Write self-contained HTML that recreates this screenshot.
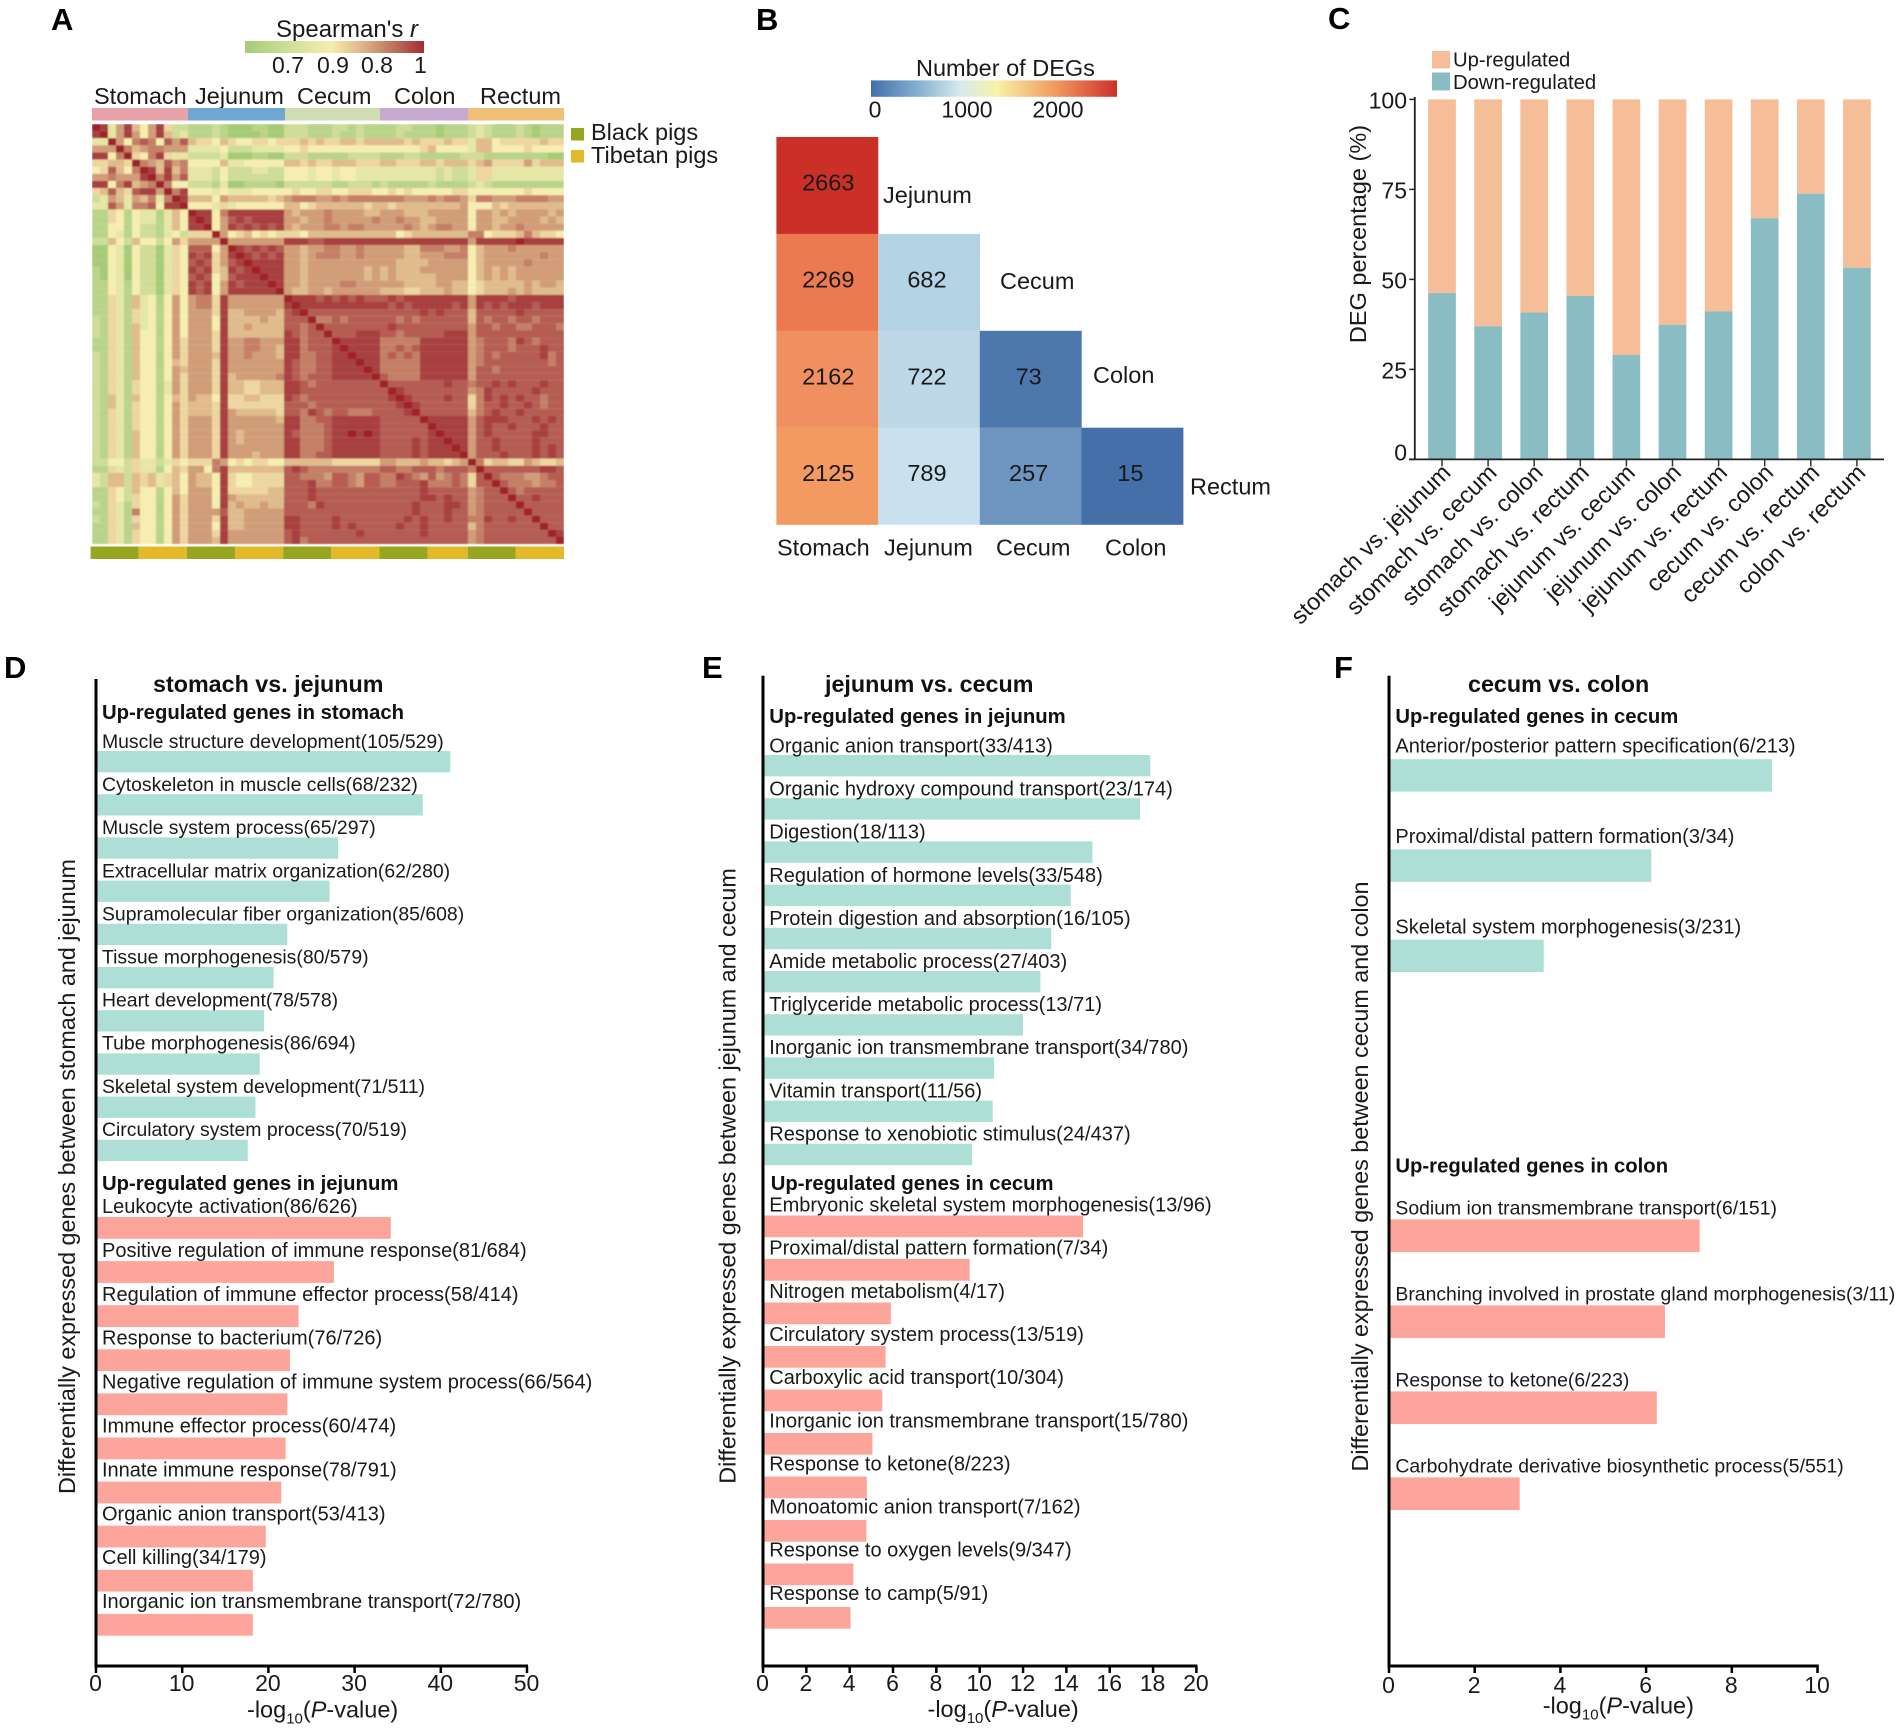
<!DOCTYPE html>
<html>
<head>
<meta charset="utf-8">
<title>DEG multi-panel figure</title>
<style>
html,body{margin:0;padding:0;background:#fff}
svg{display:block}
text{font-family:"Liberation Sans",sans-serif;fill:#1a1a1a}
.pl{font-weight:bold;font-size:31px;fill:#000}
.t23{font-size:23.5px}
.cb{font-size:23px}
.bt{font-weight:bold;font-size:23.3px;fill:#111}
.sh{font-weight:bold;font-size:20.3px;fill:#111}
</style>
</head>
<body>
<svg id="fig" xmlns="http://www.w3.org/2000/svg" width="1902" height="1731" viewBox="0 0 1902 1731">
<defs>
<linearGradient id="gradA"><stop offset="0" stop-color="#a5cb78"/><stop offset=".28" stop-color="#d6e19c"/><stop offset=".48" stop-color="#f5edb0"/><stop offset=".66" stop-color="#dcb486"/><stop offset=".85" stop-color="#bb6a5a"/><stop offset="1" stop-color="#a52c30"/></linearGradient>
<linearGradient id="gradB"><stop offset="0" stop-color="#4070ab"/><stop offset=".2" stop-color="#88b3d3"/><stop offset=".36" stop-color="#d6e9ef"/><stop offset=".51" stop-color="#f8f3a8"/><stop offset=".75" stop-color="#f09a60"/><stop offset="1" stop-color="#cc2f2a"/></linearGradient>
<filter id="soft" x="-1%" y="-1%" width="102%" height="102%"><feGaussianBlur stdDeviation="0.8"/></filter>
<clipPath id="heatClip"><rect x="92" y="124" width="472" height="420.5"/></clipPath>
</defs>
<rect width="1902" height="1731" fill="#fff"/>

<text class="pl" x="51" y="30">A</text>
<text class="pl" x="756" y="30">B</text>
<text class="pl" x="1328" y="29">C</text>
<text class="pl" x="4" y="678">D</text>
<text class="pl" x="702" y="678">E</text>
<text class="pl" x="1334" y="678">F</text>

<!-- Panel A -->
<g>
<text x="276" y="37" font-size="24">Spearman's <tspan font-style="italic">r</tspan></text>
<rect x="245" y="41" width="179" height="12" fill="url(#gradA)"/>
<text class="cb" x="272" y="73">0.7</text>
<text class="cb" x="317" y="73">0.9</text>
<text class="cb" x="361" y="73">0.8</text>
<text class="cb" x="414" y="73">1</text>
<text class="t23" x="94" y="104">Stomach</text>
<text class="t23" x="195" y="104">Jejunum</text>
<text class="t23" x="297" y="104">Cecum</text>
<text class="t23" x="394" y="104">Colon</text>
<text class="t23" x="480" y="104">Rectum</text>
<rect x="92" y="108" width="96" height="12.5" fill="#e8a2aa"/>
<rect x="188" y="108" width="97" height="12.5" fill="#6fa7d2"/>
<rect x="285" y="108" width="95" height="12.5" fill="#d0ddb2"/>
<rect x="380" y="108" width="88" height="12.5" fill="#c8a9d2"/>
<rect x="468" y="108" width="96" height="12.5" fill="#f0c078"/>
<g clip-path="url(#heatClip)"><g id="heatmap" filter="url(#soft)"></g></g>
<g id="breedBar"></g>
<rect x="571" y="128" width="13" height="12.5" fill="#96a61e"/>
<text class="t23" x="591" y="140">Black pigs</text>
<rect x="571" y="150" width="13" height="12.5" fill="#e3b92a"/>
<text class="t23" x="591" y="163">Tibetan pigs</text>
</g>

<!-- Panel B -->
<g>
<text x="916" y="76" font-size="23.5">Number of DEGs</text>
<rect x="871" y="80.4" width="246" height="16.4" fill="url(#gradB)"/>
<text class="cb" x="875" y="117.5" text-anchor="middle">0</text>
<text class="cb" x="967" y="117.5" text-anchor="middle">1000</text>
<text class="cb" x="1058" y="117.5" text-anchor="middle">2000</text>
<g id="degCells"></g>
<text class="t23" x="883" y="203">Jejunum</text>
<text class="t23" x="1000" y="289">Cecum</text>
<text class="t23" x="1093" y="383">Colon</text>
<text class="t23" x="1190" y="494.5">Rectum</text>
<text class="t23" x="777" y="555.7">Stomach</text>
<text class="t23" x="884" y="555.7">Jejunum</text>
<text class="t23" x="996" y="555.7">Cecum</text>
<text class="t23" x="1105" y="555.7">Colon</text>
</g>

<!-- Panel C -->
<g>
<rect x="1432" y="51" width="18" height="17.4" fill="#f5be98"/>
<text x="1453" y="66.3" font-size="20.3">Up-regulated</text>
<rect x="1432" y="72.5" width="18" height="17.9" fill="#8abcc4"/>
<text x="1453" y="89" font-size="20.3">Down-regulated</text>
<text transform="translate(1366,234) rotate(-90)" text-anchor="middle" font-size="23.5">DEG percentage (%)</text>
<g id="stacked"></g>
</g>

<!-- Panels D-F -->
<g id="panelD">
<text class="bt" x="153" y="692">stomach vs. jejunum</text>
<text class="sh" x="102" y="719">Up-regulated genes in stomach</text>
<text class="sh" x="102" y="1190">Up-regulated genes in jejunum</text>
<text transform="translate(75,1176.5) rotate(-90)" text-anchor="middle" font-size="23" textLength="635" lengthAdjust="spacingAndGlyphs">Differentially expressed genes between stomach and jejunum</text>
<text x="247" y="1717.6" font-size="23.5">-log<tspan font-size="15" dy="6">10</tspan><tspan dy="-6">(</tspan><tspan font-style="italic">P</tspan>-value)</text>
</g>
<g id="panelE">
<text class="bt" x="825" y="692">jejunum vs. cecum</text>
<text class="sh" x="769.3" y="723">Up-regulated genes in jejunum</text>
<text class="sh" x="770.7" y="1190">Up-regulated genes in cecum</text>
<text transform="translate(735.7,1176) rotate(-90)" text-anchor="middle" font-size="23" textLength="615.5" lengthAdjust="spacingAndGlyphs">Differentially expressed genes between jejunum and cecum</text>
<text x="927.5" y="1717" font-size="23.5">-log<tspan font-size="15" dy="6">10</tspan><tspan dy="-6">(</tspan><tspan font-style="italic">P</tspan>-value)</text>
</g>
<g id="panelF">
<text class="bt" x="1468" y="692">cecum vs. colon</text>
<text class="sh" x="1395.4" y="723">Up-regulated genes in cecum</text>
<text class="sh" x="1395.4" y="1172.7">Up-regulated genes in colon</text>
<text transform="translate(1368,1176.5) rotate(-90)" text-anchor="middle" font-size="23" textLength="590" lengthAdjust="spacingAndGlyphs">Differentially expressed genes between cecum and colon</text>
<text x="1542.7" y="1713.4" font-size="23.5">-log<tspan font-size="15" dy="6">10</tspan><tspan dy="-6">(</tspan><tspan font-style="italic">P</tspan>-value)</text>
</g>
</svg>

<script>
// ---- Panel A data: correlation level per cell (hex digit 0-b), groups = stomach, jejunum, cecum, colon, rectum
var correlationRows = [
"ba37a647a522 111210001100 222111221211 11221110111 232111210111",
"ab37a747a623 111210000100 222111211211 11211110111 232111210111",
"33b748984979 655465445545 556565566566 66656555655 366455555655",
"777b86788777 333342223333 445444444444 44444564444 366444454444",
"aa48b548a533 222230001100 222111112222 11122111112 221111111100",
"55665b876978 444463344444 665655666555 66555665666 567555575666",
"459648ba6a68 333242223322 444344344333 33333332322 355333333333",
"778777ab8a79 333242222222 444344344333 33333332322 355333333333",
"aa48a678b844 222130011110 222222112221 21111121111 232111111111",
"569659aa7b8a 444343334444 454455445554 45454444455 444444454444",
"2376376838ba 666476666656 788877878888 88877787887 588777888877",
"339738894aab 444353444444 664566666656 65666666667 444656666666",
"115414331364 baa48aaaaaaa 767778777766 77766677777 477676777767",
"115414331364 aba479a9aaaa 776778777778 77877667777 477667777676",
"114414221364 aab47a9a9a9a 767778878877 77787678877 477677877777",
"114314221342 555b74564545 554666666666 66456666666 884555686554",
"226426442475 7777b7777777 aaa99aaaaaaa aaaaaaaaaaa 7aaaaabaaaaa",
"004304220354 99947ba9a9a9 776778877877 77766888778 467778777777",
"004304220354 a9a57aba9a9a 776788877877 77766777888 467777777877",
"004304220354 9a9579abaaaa 776777777777 77666677777 467777787777",
"104304220354 a9a56a9abaaa 776777777767 67666777777 467676777777",
"104304220354 9a9469aaabaa 776777777767 67666667777 467676777777",
"114314220354 a9a47a9aaaba 776777788777 77766667766 456666676776",
"114314220354 a9a47aaaaaab 766776777777 66655666766 456667676666",
"115316341474 7885a7777777 baaa9a9a9a99 9a9aaaaaaaa 7aaaa9aaaaaa",
"115316341474 7885a7777777 abaaaaaaaaaa a9a9aaaaa9a 7a9a9aaa9aaa",
"115315341474 7775a6677776 9ab999999999 99999a9a999 699999a99999",
"215315341474 7774a6666766 999b88989999 99898999999 698998998999",
"215316341474 7774a6676666 9989b9999999 9a999999999 799899889998",
"215316441474 7775a6666666 a9899b999aaa 99899999aaa 799999999999",
"115316441475 7775a7788777 aa8999baaaaa 88888aaaaaa 789998a98999",
"115316441475 7775a7788776 aa8999abaaaa 88989aaaaaa 789998999a99",
"215316441475 7776a7787776 aa8899aabaaa 89898aaaaaa 789899999a89",
"215316441465 7775a7777777 a98899aaabaa 88888aaaaaa 789999999989",
"215316441476 7775a7777777 a98899aaaaba 88888aaaaaa 799899999999",
"215316441475 7775a6777778 a98999aaaaab 98888aaaaaa 799999999999",
"215315441375 7775a6655666 aa9899999999 b9999999a99 899a9a999a99",
"215315441375 7775a6655666 aa9999999999 9ba99999999 78a99999a999",
"216316441465 7664a5566555 a98999999999 9aba9999a99 58a9a9a99899",
"216315441475 6665a5555555 999899999999 99aba999999 5899a99a9899",
"215315441475 6665a7666665 998a98998889 999ab999999 689a99a99999",
"215315441475 7775a7777776 aa8899aaaaaa 99999baaaaa 79aaa999a9a9",
"215315441475 7775a7777777 aa8889aaaaaa 999999baaaa 79a99a999a99",
"215316441475 7775a7677777 a98889aababa 999999abaaa 79a99999aa99",
"215316441475 7775a7677777 aa8889aaaaaa 9999a9aabaa 799a9999a999",
"215316441475 7775a7777777 aa8889aaaaaa 9999a9aaaba 799a9999a9a9",
"215316441475 7775a7776777 aa8899aaaaaa 9999a9aaaab 7999a999a9a9",
"224425332354 555874545544 666666555555 77666766567 b85665576556",
"115325331465 7748a6666666 9a9888888888 99889998999 8b9999999aa9",
"326626563564 7664a5445555 998887998799 88a98797898 59b988877899",
"326626563564 7664a5445555 999a88998799 88999a88898 599b98887889",
"115426441464 7774a5555566 999a99999999 99999a99999 7899b9899999",
"115425441475 7774a7666666 999a99999999 99999aa9a99 78999b99a999",
"215315441475 7774a6766766 9998a9999999 9999a999aa9 789999b99999",
"115318441475 777796677777 999999999999 9999a999a99 7899999b9999",
"215315441475 7775a6677777 aa9999a99999 999a9a99a99 88a99a99b999",
"115316441475 7774a6677777 aa9999a9a999 99a99a99999 689999999b99",
"115315441475 7775a7777777 9a9999999a99 99999a99999 7899999999ba",
"115315441475 7776a7777777 9a8999999999 99999999999 78999999999b"
];
var correlationPalette = ["#a6cb78","#b9d489","#cfdd98","#e6e6a6","#f5eeb0","#eed6a0","#e0bc8c","#d19d78","#c47f66","#b55d52","#a83f40","#9e2327"];
var breedGroups = ["black","tibetan","black","tibetan","black","tibetan","black","tibetan","black","tibetan"];
var breedGroupSizes = [6,6,6,6,6,6,6,5,6,6];

// ---- Panel B data
var degMatrix = [[2663],[2269,682],[2162,722,73],[2125,789,257,15]];
var degScaleValues = [15,73,257,682,722,789,1330,2125,2162,2269,2663];
var degScaleColors = ["#456fa9","#4d78ae","#6d95c0","#b4d3e4","#bfd8e7","#c9e1ec","#f8f3a8","#f29a62","#f09060","#ec7a50","#cb3028"];

// ---- Panel C data
var comparisons = ["stomach vs. jejunum","stomach vs. cecum","stomach vs. colon","stomach vs. rectum","jejunum vs. cecum","jejunum vs. colon","jejunum vs. rectum","cecum vs. colon","cecum vs. rectum","colon vs. rectum"];
var downPercent = [46.2,37,40.8,45.4,29,37.4,41.1,67,73.8,53.2];
var percentTicks = [0,25,50,75,100];

// ---- Panel D data
var dUpTerms = ["Muscle structure development(105/529)","Cytoskeleton in muscle cells(68/232)","Muscle system process(65/297)","Extracellular matrix organization(62/280)","Supramolecular fiber organization(85/608)","Tissue morphogenesis(80/579)","Heart development(78/578)","Tube morphogenesis(86/694)","Skeletal system development(71/511)","Circulatory system process(70/519)"];
var dUpValues = [41.1,37.9,28.1,27.1,22.2,20.6,19.5,19.0,18.5,17.6];
var dDownTerms = ["Leukocyte activation(86/626)","Positive regulation of immune response(81/684)","Regulation of immune effector process(58/414)","Response to bacterium(76/726)","Negative regulation of immune system process(66/564)","Immune effector process(60/474)","Innate immune response(78/791)","Organic anion transport(53/413)","Cell killing(34/179)","Inorganic ion transmembrane transport(72/780)"];
var dDownValues = [34.2,27.6,23.5,22.5,22.2,22.0,21.5,19.7,18.2,18.2];
var dTicks = [0,10,20,30,40,50];

// ---- Panel E data
var eUpTerms = ["Organic anion transport(33/413)","Organic hydroxy compound transport(23/174)","Digestion(18/113)","Regulation of hormone levels(33/548)","Protein digestion and absorption(16/105)","Amide metabolic process(27/403)","Triglyceride metabolic process(13/71)","Inorganic ion transmembrane transport(34/780)","Vitamin transport(11/56)","Response to xenobiotic stimulus(24/437)"];
var eUpValues = [17.87,17.4,15.2,14.2,13.3,12.8,12.0,10.66,10.6,9.65];
var eDownTerms = ["Embryonic skeletal system morphogenesis(13/96)","Proximal/distal pattern formation(7/34)","Nitrogen metabolism(4/17)","Circulatory system process(13/519)","Carboxylic acid transport(10/304)","Inorganic ion transmembrane transport(15/780)","Response to ketone(8/223)","Monoatomic anion transport(7/162)","Response to oxygen levels(9/347)","Response to camp(5/91)"];
var eDownValues = [14.77,9.54,5.9,5.66,5.5,5.05,4.79,4.77,4.17,4.04];
var eTicks = [0,2,4,6,8,10,12,14,16,18,20];

// ---- Panel F data
var fUpTerms = ["Anterior/posterior pattern specification(6/213)","Proximal/distal pattern formation(3/34)","Skeletal system morphogenesis(3/231)"];
var fUpValues = [8.94,6.12,3.61];
var fDownTerms = ["Sodium ion transmembrane transport(6/151)","Branching involved in prostate gland morphogenesis(3/11)","Response to ketone(6/223)","Carbohydrate derivative biosynthetic process(5/551)"];
var fDownValues = [7.25,6.44,6.25,3.05];
var fTicks = [0,2,4,6,8,10];

var NS = "http://www.w3.org/2000/svg";
function mk(tag, parent, attrs) {
  var n = document.createElementNS(NS, tag);
  for (var k in attrs) n.setAttribute(k, attrs[k]);
  parent.appendChild(n);
  return n;
}

// Heatmap
(function () {
  var g = document.getElementById("heatmap");
  var x0 = 92, y0 = 124, cw = 8, ch = 7.12;
  correlationRows.forEach(function (row, i) {
    var levels = row.replace(/ /g, "");
    for (var j = 0; j < levels.length; j++) {
      var level = parseInt(levels.charAt(j), 16);
      var el = mk("rect", g, {x: x0 + j * cw, y: y0 + i * ch, width: cw + 0.05, height: ch + 0.05, fill: correlationPalette[level]});
      
      
    }
  });
  var bar = document.getElementById("breedBar");
  var total = breedGroupSizes.reduce(function (a, b) { return a + b; }, 0);
  var barX0 = 90.6, barW = 473.4, cum = 0;
  breedGroups.forEach(function (b, i) {
    var el = mk("rect", bar, {x: barX0 + cum / total * barW, y: 546.5, width: breedGroupSizes[i] / total * barW, height: 12.5, fill: b === "black" ? "#96a61e" : "#e3b92a"});
    
    
    cum += breedGroupSizes[i];
  });
})();

// DEG matrix
function hex2rgb(h) { return [parseInt(h.substr(1, 2), 16), parseInt(h.substr(3, 2), 16), parseInt(h.substr(5, 2), 16)]; }
function degColor(v) {
  var vs = degScaleValues, cs = degScaleColors;
  if (v <= vs[0]) return cs[0];
  for (var i = 1; i < vs.length; i++) {
    if (v <= vs[i]) {
      var t = (v - vs[i - 1]) / (vs[i] - vs[i - 1]);
      var a = hex2rgb(cs[i - 1]), b = hex2rgb(cs[i]);
      return "rgb(" + [0, 1, 2].map(function (k) { return Math.round(a[k] + (b[k] - a[k]) * t); }).join(",") + ")";
    }
  }
  return cs[cs.length - 1];
}
(function () {
  var g = document.getElementById("degCells");
  var x0 = 776.4, y0 = 137, cw = 101.7, ch = 96.9;
  degMatrix.forEach(function (row, i) {
    row.forEach(function (v, j) {
      var el = mk("rect", g, {x: x0 + j * cw, y: y0 + i * ch, width: cw + 0.2, height: ch + 0.2, fill: degColor(v)});
      
      
      var t = mk("text", g, {x: x0 + j * cw + cw / 2 + (j === 0 ? 1 : -2), y: y0 + i * ch + ch / 2 + 5, "text-anchor": "middle", "font-size": 23.5});
      t.textContent = v;
      
      
    });
  });
})();

// Stacked bars
(function () {
  var g = document.getElementById("stacked");
  var axisX = 1414.8, baseY = 459.4, pxPerPct = 3.6;
  function y(v) { return baseY - v * pxPerPct; }
  function cx(i) { return 1442 + i * 46.1; }
  var barW = 27.7;
  comparisons.forEach(function (name, i) {
    var up = mk("rect", g, {x: cx(i) - barW / 2, y: y(100), width: barW, height: y(downPercent[i]) - y(100), fill: "#f5be98"});
    
    
    var dn = mk("rect", g, {x: cx(i) - barW / 2, y: y(downPercent[i]), width: barW, height: baseY - y(downPercent[i]), fill: "#8abcc4"});
    
    
    var tk = mk("line", g, {x1: cx(i), x2: cx(i), y1: baseY, y2: baseY + 7, stroke: "#333", "stroke-width": 1.5});
    
    
    var lab = mk("text", g, {transform: "translate(" + (cx(i) + 10) + ",474) rotate(-45)", "text-anchor": "end", "font-size": 23.5});
    lab.textContent = name;
    
    
  });
  percentTicks.forEach(function (v) {
    var tk = mk("line", g, {x1: axisX - 5.5, x2: axisX, y1: y(v), y2: y(v), stroke: "#222", "stroke-width": 1.5});
    
    
    var t = mk("text", g, {x: 1407, y: y(v) + (v === 0 ? 1 : 9), "text-anchor": "end", "font-size": 23});
    t.textContent = v;
    
    
  });
  var ya = mk("line", g, {x1: axisX, x2: axisX, y1: 97, y2: baseY, stroke: "#222", "stroke-width": 1.8});
  
  
  var xa = mk("line", g, {x1: 1409, x2: 1884, y1: baseY, y2: baseY, stroke: "#222", "stroke-width": 1.8});
  
  
})();

// Enrichment bars
function drawGroup(g, terms, values, color, xScale, x0, textX, top, step, h, gap, labelDrift, fontSize) {
  terms.forEach(function (term, i) {
    var y = top + i * step;
    var r = mk("rect", g, {x: x0, y: y, width: xScale(values[i]) - x0, height: h, fill: color});
    
    
  });
  terms.forEach(function (term, i) {
    var y = top + i * step;
    var t = mk("text", g, {x: textX, y: y - gap - i * labelDrift, "font-size": fontSize});
    t.textContent = term;
    
    
  });
}
function drawAxes(g, ticks, xScale, x0, xEnd, yTop, yBase, tickY) {
  ticks.forEach(function (v) {
    var tk = mk("line", g, {x1: xScale(v), x2: xScale(v), y1: yBase, y2: yBase + 7, stroke: "#000", "stroke-width": 2.5});
    
    
    var t = mk("text", g, {x: xScale(v) - 0.5, y: tickY, "text-anchor": "middle", "font-size": 23});
    t.textContent = v;
    
    
  });
  var ya = mk("line", g, {x1: x0, x2: x0, y1: yTop, y2: yBase + 1.5, stroke: "#000", "stroke-width": 3});
  
  
  var xa = mk("line", g, {x1: x0, x2: xEnd + 1, y1: yBase, y2: yBase, stroke: "#000", "stroke-width": 3});
  
  
}
var TEAL = "#aedfd6", SALMON = "#fea59b";
(function () {
  var g = document.getElementById("panelD");
  function x(v) { return 96 + v * 8.62; }
  drawGroup(g, dUpTerms, dUpValues, TEAL, x, 96, 102, 751, 43.2, 21.3, 3, 0.1, 19.4);
  drawGroup(g, dDownTerms, dDownValues, SALMON, x, 96, 102, 1217, 44.1, 21.8, 4, 0.2, 20);
  drawAxes(g, dTicks, x, 96, 527, 679, 1666, 1691);
})();
(function () {
  var g = document.getElementById("panelE");
  function x(v) { return 763 + v * 21.67; }
  drawGroup(g, eUpTerms, eUpValues, TEAL, x, 763, 769.3, 755, 43.2, 21.4, 2.5, 0.1, 20);
  drawGroup(g, eDownTerms, eDownValues, SALMON, x, 763, 769.3, 1215.5, 43.5, 21.7, 4, 0.35, 20);
  drawAxes(g, eTicks, x, 763, 1196.4, 675.7, 1666, 1691);
})();
(function () {
  var g = document.getElementById("panelF");
  function x(v) { return 1389 + v * 42.85; }
  drawGroup(g, fUpTerms, fUpValues, TEAL, x, 1389, 1395.4, 759.2, 90.2, 32.4, 6.5, -0.3, 20);
  drawGroup(g, fDownTerms, fDownValues, SALMON, x, 1389, 1395.4, 1219.4, 86, 32.7, 5, 0, 19.4);
  drawAxes(g, fTicks, x, 1389, 1817.8, 675.8, 1666, 1693);
})();
</script>
</body>
</html>
